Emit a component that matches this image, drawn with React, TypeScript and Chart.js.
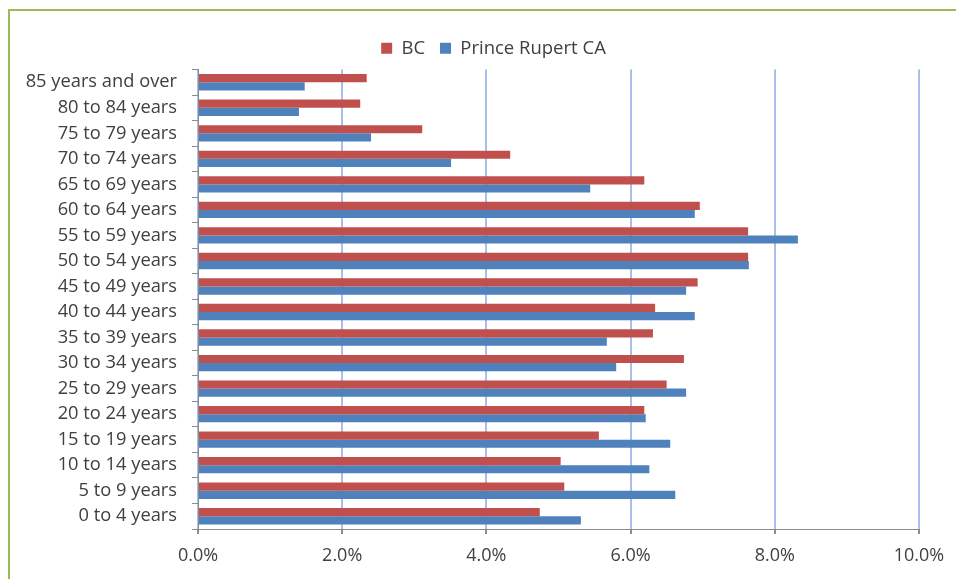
import React, { useEffect, useRef } from "react";
import { Chart, registerables } from "chart.js";

Chart.register(...registerables);

const categories = [
  "0 to 4 years",
  "5 to 9 years",
  "10 to 14 years",
  "15 to 19 years",
  "20 to 24 years",
  "25 to 29 years",
  "30 to 34 years",
  "35 to 39 years",
  "40 to 44 years",
  "45 to 49 years",
  "50 to 54 years",
  "55 to 59 years",
  "60 to 64 years",
  "65 to 69 years",
  "70 to 74 years",
  "75 to 79 years",
  "80 to 84 years",
  "85 years and over",
];

const bcValues = [4.74, 5.08, 5.03, 5.56, 6.19, 6.5, 6.74, 6.31, 6.34, 6.93, 7.63, 7.63, 6.96, 6.19, 4.33, 3.11, 2.25, 2.34];
const princeRupertValues = [5.31, 6.62, 6.26, 6.55, 6.21, 6.77, 5.8, 5.67, 6.89, 6.77, 7.64, 8.32, 6.89, 5.44, 3.51, 2.4, 1.4, 1.48];

const xMin = 0;
const xMax = 10;
const xStep = 2;

const FONT = "'Open Sans', Lato, sans-serif";

// Excel centres the legend on the whole (wider) chart frame: shift it a little right
const legendTweak = {
  id: "legendTweak",
  beforeInit(chart: any) {
    const legend = chart.legend;
    if (!legend) return;
    const origFit = legend.fit;
    legend.fit = function () {
      origFit.call(this);
      this.height += 2;
    };
    const origDraw = legend.draw;
    legend.draw = function (...args: any[]) {
      const ctx = this.ctx;
      ctx.save();
      ctx.translate(29, 0);
      origDraw.apply(this, args);
      ctx.restore();
    };
  },
};

export default function App() {
  const canvasRef = useRef<HTMLCanvasElement | null>(null);

  useEffect(() => {
    const canvas = canvasRef.current;
    if (!canvas) return;
    const chart = new Chart(canvas, {
      type: "bar",
      data: {
        labels: categories,
        datasets: [
          {
            label: "BC",
            data: bcValues,
            backgroundColor: "#c0504d",
            borderWidth: 0,
          },
          {
            label: "Prince Rupert CA",
            data: princeRupertValues,
            backgroundColor: "#4f81bd",
            borderWidth: 0,
          },
        ],
      },
      options: {
        indexAxis: "y",
        responsive: false,
        animation: false,
        maintainAspectRatio: false,
        layout: { padding: { left: 10, right: 37, top: 24, bottom: 0 } },
        datasets: {
          bar: { categoryPercentage: 0.64, barPercentage: 1 },
        },
        plugins: {
          tooltip: { enabled: false },
          legend: {
            position: "top",
            labels: {
              boxWidth: 11,
              boxHeight: 11,
              padding: 15,
              color: "#404040",
              font: { family: FONT, size: 18.5 },
            },
          },
        },
        scales: {
          x: {
            min: xMin,
            max: xMax,
            afterFit: (s: any) => {
              s.height = 50;
            },
            ticks: {
              stepSize: xStep,
              padding: 11,
              color: "#404040",
              font: { family: FONT, size: 18 },
              callback: (v: any) => Number(v).toFixed(1) + "%",
            },
            grid: {
              color: "rgba(150,180,232,0.85)",
              lineWidth: 2,
              tickColor: "#8c8c8c",
              tickLength: 5,
            },
            border: { color: "#8c8c8c", width: 1 },
          },
          y: {
            reverse: true,
            afterFit: (s: any) => {
              s.width = 188;
            },
            ticks: {
              padding: 15,
              color: "#404040",
              font: { family: FONT, size: 18.3 },
              autoSkip: false,
            },
            grid: {
              offset: true,
              drawOnChartArea: false,
              color: "#8c8c8c",
              tickLength: 6,
            },
            border: { color: "#8c8c8c", width: 1 },
          },
        },
      },
      plugins: [legendTweak],
    });
    return () => chart.destroy();
  }, []);

  return (
    <div
      style={{
        position: "fixed",
        left: 0,
        top: 0,
        width: 956,
        height: 579,
        overflow: "hidden",
        background: "#ffffff",
      }}
    >
      <div
        style={{
          position: "absolute",
          left: 8,
          top: 9,
          width: 1000,
          height: 700,
          border: "2px solid #9bbb59",
          boxSizing: "border-box",
        }}
      />
      <canvas
        ref={canvasRef}
        width={956}
        height={579}
        style={{ position: "absolute", left: 0, top: 0, width: 956, height: 579 }}
      />
    </div>
  );
}
